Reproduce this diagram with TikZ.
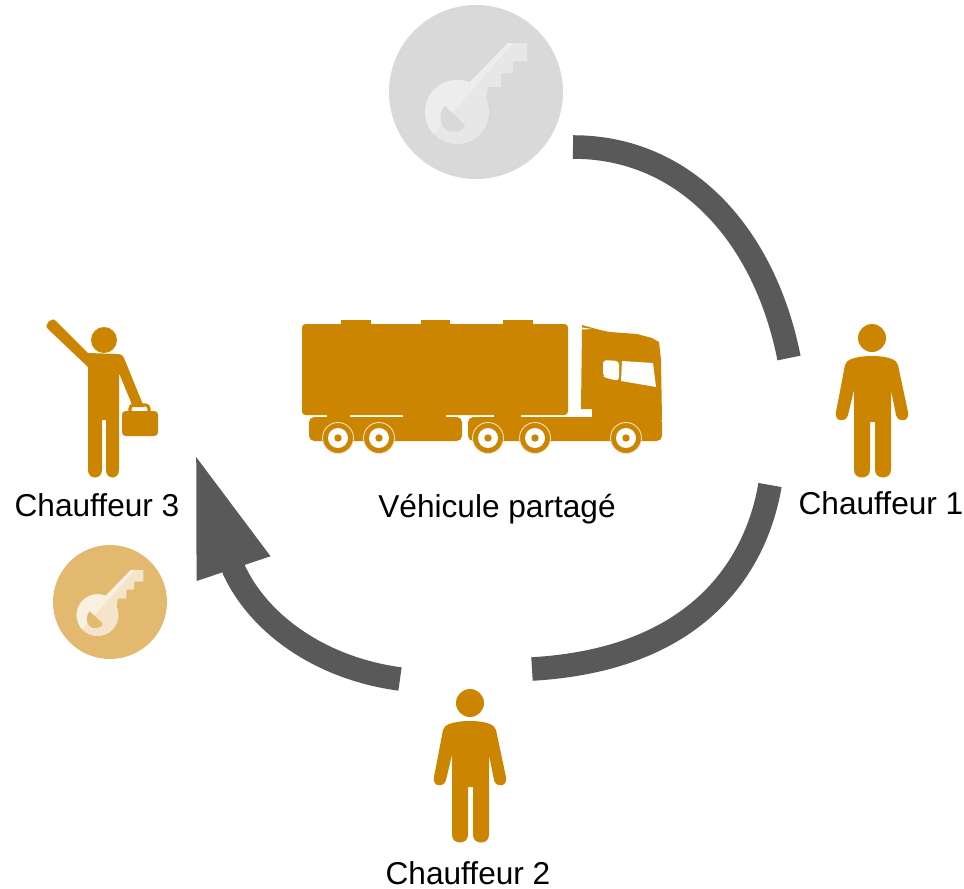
\documentclass[tikz,border=0pt]{standalone}
\usepackage{fontspec}
\setmainfont{Liberation Sans}
\usetikzlibrary{arrows.meta}
\definecolor{truckorange}{HTML}{CC8500}
\definecolor{arcgray}{HTML}{595959}
\definecolor{discgray}{HTML}{D9D9D9}
\definecolor{keygraylight}{HTML}{EDEDED}
\definecolor{keygraydark}{HTML}{E7E7E7}
\definecolor{discorange}{HTML}{E3B96F}
\definecolor{keyorangelight}{HTML}{F8F0E0}
\definecolor{keyorangedark}{HTML}{F4E5CA}
\tikzset{
  label/.style={font=\fontsize{18}{20}\selectfont, inner sep=0pt},
  handover/.style={draw=arcgray, line width=13.4pt},
  pics/personicon/.style={code={
    \fill[truckorange] (0,0) circle (14);
    \fill[truckorange] (0,18) .. controls (8,18) and (15,19) .. (20,21) .. controls (23,22) and (25,24) .. (26,27)
      -- (36,74) .. controls (38,84) and (26,85) .. (24,77) -- (19,52) -- (19,132) .. controls (19,142) and (3,142) .. (3,132)
      -- (3,84) -- (-2,84) -- (-2,132) .. controls (-2,142) and (-18,142) .. (-18,132) -- (-18,52)
      -- (-24,77) .. controls (-26,85) and (-38,84) .. (-36,74) -- (-27,27) .. controls (-26,24) and (-24,22) .. (-21,21)
      .. controls (-15,19) and (-8,18) .. (0,18) -- cycle;
  }},
  pics/wheelicon/.style={code={
    \fill[truckorange, draw=keyorangedark, line width=0.5pt] (0,0) circle (15.5);
    \fill[white] (0,0) circle (10);
    \fill[truckorange] (0,0) circle (3.7);
  }},
  pics/keyicon/.style n args={3}{code={
    \fill[#1] (0,0) circle (87);
    % key in the darker tone
    \fill[#3] (-19,20) circle (32);
    \fill[#3] (-6,-10) -- (32,-49) -- (51,-49) -- (51,-31) -- (37,-31) -- (37,-19) -- (25,-19) -- (25,-5) -- (12,-5) -- (8,20) -- cycle;
    % lighter half of the key
    \begin{scope}
      \clip (-60,62) -- (40,-52) -- (-80,-52) -- (-80,62) -- cycle;
      \fill[#2] (-19,20) circle (32);
      \fill[#2] (-6,-10) -- (32,-49) -- (51,-49) -- (51,-31) -- (37,-31) -- (37,-19) -- (25,-19) -- (25,-5) -- (12,-5) -- (8,20) -- cycle;
    \end{scope}
    % hole
    \fill[#1] (-31,14) -- (-11,33) .. controls (-12,40) and (-25,42) .. (-31,37) .. controls (-37,32) and (-37,20) .. (-31,14) -- cycle;
  }}
}
\begin{document}
\begin{tikzpicture}[x=0.02cm, y=-0.02cm]
    \useasboundingbox (0,0) rectangle (964,889);

    % Key discs
    \pic (keytop) at (476,92) {keyicon={discgray}{keygraylight}{keygraydark}};
    \pic[scale=0.655] (keyleft) at (110,602) {keyicon={discorange}{keyorangelight}{keyorangedark}};

    % Drivers
    \pic (driverone) at (872,338) {personicon};
    \pic (drivertwo) at (470,703) {personicon};
    \node[label] (labelone) at (881,503) {Chauffeur 1};
    \node[label] (labeltwo) at (468,873) {Chauffeur 2};
    \node[label] (labelthree) at (97,505) {Chauffeur 3};
    \node[label] (labeltruck) at (497,509) {Véhicule partagé};

    % Driver with the briefcase
    \fill[truckorange] (104,340) circle (13);
    \fill[truckorange] (88,353) -- (56,321) .. controls (52,316) and (43,325) .. (48,329) -- (88,367)
      -- (88,470) .. controls (88,480) and (102,480) .. (102,470) -- (102,420) -- (106,420) -- (106,470)
      .. controls (106,480) and (119,480) .. (119,470) -- (119,373) -- (133,407) -- (144,407) -- (124,358)
      .. controls (123,355) and (121,354) .. (118,354) -- cycle;
    \draw[truckorange, line width=1.8pt, rounded corners=2pt] (130,412) -- (130,405) -- (149,405) -- (149,412);
    \fill[truckorange, rounded corners=2pt] (122,411) rectangle (158,436);

    % Truck
    \fill[truckorange, rounded corners=2pt] (302,324) rectangle (568,415);
    \fill[truckorange] (341,320) rectangle (371,325);
    \fill[truckorange] (421,320) rectangle (450,325);
    \fill[truckorange] (503,320) rectangle (533,325);
    \fill[truckorange, rounded corners=3pt] (309,417) rectangle (462,441);
    \fill[truckorange, rounded corners=3pt] (468,417) rectangle (662,441);
    \fill[truckorange] (327,414) rectangle (350,418);
    \fill[truckorange] (403,414) rectangle (446,418);
    \fill[truckorange] (494,414) rectangle (521,418);
    \fill[truckorange] (582,325) -- (600,330) -- (610,332) -- (637,334) -- (652,338) -- (659,342) -- (661,360) -- (662,420) -- (592,420) -- (592,409) -- (581,409) -- (582,328) -- cycle;
    \fill[white] (582,327.5) -- (592,329) -- (582,329.5) -- cycle;
    \fill[white] (622,361) -- (653,363) -- (656,387) -- (621,381) -- cycle;
    \fill[white, rounded corners=2pt] (619,361) -- (603,360) -- (603,376) -- (606,378) -- (619,381) -- cycle;
    \pic (wheelone) at (338,438) {wheelicon};
    \pic (wheeltwo) at (379,438) {wheelicon};
    \pic (wheelthree) at (488,438) {wheelicon};
    \pic (wheelfour) at (535,438) {wheelicon};
    \pic (wheelfive) at (626,438) {wheelicon};

    % Hand-over arcs
    \coordinate (arcastart) at (573,147);
    \coordinate (arcaend) at (789,358);
    \coordinate (arcbstart) at (770,485);
    \coordinate (arcbend) at (532,669);
    \coordinate (arccstart) at (400,679);
    \coordinate (arccneck) at (234,570);
    \coordinate (arccend) at (194.5,452);
    \draw[handover] (arcastart) .. controls (687,147) and (765,237) .. (arcaend);
    \draw[handover] (arcbstart) .. controls (758,556) and (707,659) .. (arcbend);
    \draw[handover, -{Triangle[length=70pt, width=40pt]}] (arccstart) .. controls (318,668) and (258,622) .. (arccneck) -- (arccend);
\end{tikzpicture}
\end{document}
